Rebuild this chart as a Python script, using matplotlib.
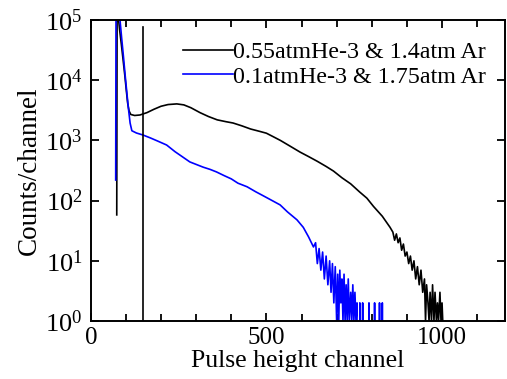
# Pulse height spectra, He-3 / Ar gas mixtures

import numpy as np
import matplotlib
matplotlib.use("Agg")
import matplotlib.pyplot as plt
from matplotlib.ticker import MultipleLocator, LogLocator

plt.rcParams['font.family'] = ['Liberation Serif', 'DejaVu Serif']
plt.rcParams['mathtext.fontset'] = 'stix'

# 0.55 atm He-3 & 1.4 atm Ar  (black)
ch_a = [74, 75, 78, 82, 87, 92, 97, 101, 105, 109, 114, 125, 140, 160, 180,
        200, 220, 245, 265, 285, 311, 335, 360, 385, 405, 430, 455, 480, 500,
        520, 540, 565, 596, 620, 645, 670, 691, 715, 740, 765, 786, 805, 830,
        852, 860, 865, 870, 875, 880, 885, 890, 895, 900, 905, 910, 915, 920,
        925, 930, 935, 940, 945, 950, 953, 956, 960, 963, 966, 970, 973, 977,
        980, 984, 987, 990, 994, 997, 1000, 1002, 1004]
cnt_a = [58, 2e5, 1.2e5, 7e4, 4e4, 2.2e4, 1.2e4, 7000, 4200, 3100, 2700, 2600,
         2650, 2900, 3300, 3700, 3950, 4050, 3900, 3500, 2900, 2500, 2200,
         2050, 1950, 1750, 1550, 1420, 1320, 1150, 1000, 820, 640, 540, 450,
         370, 310, 240, 190, 140, 110, 80, 55, 36, 30, 22, 28, 20, 24, 15, 19,
         12, 14, 9, 12, 7, 10, 5, 8, 4, 7, 3, 5, 1, 4, 2, 1, 3, 1, 4, 1, 3, 1,
         2, 1, 3, 1, 2, 1, 0]

# 0.1 atm He-3 & 1.75 atm Ar  (blue)
ch_b = [71, 72, 80, 84, 88, 93, 98, 103, 107, 112, 117, 130, 149, 170, 190,
        216, 240, 260, 282, 300, 320, 340, 358, 380, 400, 419, 445, 470, 487,
        510, 539, 560, 587, 605, 620, 634, 640, 645, 650, 655, 660, 665, 670,
        675, 680, 684, 688, 692, 696, 700, 703, 706, 709, 712, 715, 718, 721,
        724, 727, 730, 733, 736, 740, 743, 746, 749, 752, 755, 758, 762, 766,
        770, 774, 778, 790, 792, 794, 806, 808, 810, 820, 822, 824, 828, 830,
        832]
cnt_b = [220, 2e5, 2e5, 9e4, 5e4, 2.5e4, 1.2e4, 6000, 3500, 1950, 1450, 1330,
         1230, 1100, 980, 840, 650, 540, 440, 400, 360, 330, 300, 260, 230,
         195, 170, 140, 124, 105, 85, 65, 48, 36, 25, 17, 20, 9, 16, 7, 14, 5,
         12, 4, 10, 3, 9, 2, 8, 1, 6, 1, 7, 2, 5, 1, 6, 1, 4, 1, 5, 1, 3, 1, 4,
         1, 3, 1, 2, 0, 2, 0, 2, 0, 0, 2, 0, 0, 2, 0, 0, 2, 0, 0, 2, 0]

# threshold marker line
thr_ch = [149, 149]
thr_cnt = [1, 7.6e4]

labels = ['0.55atmHe-3 & 1.4atm Ar', '0.1atmHe-3 & 1.75atm Ar']

fig = plt.figure(figsize=(5.07, 3.79), dpi=100)
ax = fig.add_axes([0.179, 0.153, 0.8176, 0.794])

ax.plot(ch_a, cnt_a, color='black', lw=1.2, label=labels[0])
ax.plot(ch_b, cnt_b, color='#0000ff', lw=1.2, label=labels[1])
ax.plot(thr_ch, thr_cnt, color='black', lw=1.2)

ax.set_yscale('log', nonpositive='clip')
ax.set_xlim(0, 1180)
ax.set_ylim(1, 1e5)

ax.xaxis.set_major_locator(MultipleLocator(500))
ax.xaxis.set_minor_locator(MultipleLocator(100))
ax.yaxis.set_major_locator(LogLocator(base=10, numticks=10))
ax.yaxis.set_minor_locator(LogLocator(base=10, subs=[], numticks=10))

ax.tick_params(which='both', direction='in', top=True, right=True, width=1.3)
ax.tick_params(which='major', length=6)
ax.tick_params(which='minor', length=5)
ax.tick_params(axis='x', labelsize=18, pad=4)
ax.tick_params(axis='y', labelsize=19, pad=6)
for s in ax.spines.values():
    s.set_linewidth(1.4)

ax.set_xlabel('Pulse height channel', fontsize=18.5, labelpad=1)
ax.set_ylabel('Counts/channel', fontsize=19.5, labelpad=2)

leg = ax.legend(loc='upper left', bbox_to_anchor=(0.222, 0.93), frameon=False,
                fontsize=17.3, handlelength=2.1, handletextpad=0.0,
                labelspacing=0.12, borderpad=0, borderaxespad=0)

fig.savefig('out.png', dpi=100)
